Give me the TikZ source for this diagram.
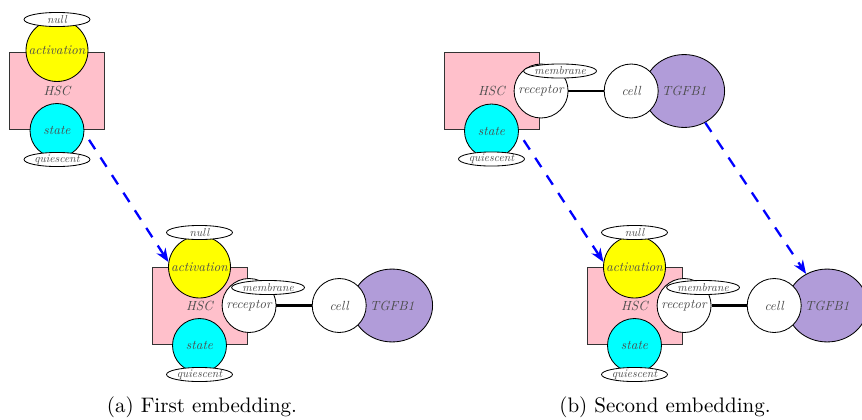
\documentclass[tikz,border=0pt]{standalone}
\usepackage{fontspec}
\newfontfamily\labelfont{lmroman10-italic.otf}
\usetikzlibrary{arrows, arrows.meta}
\usetikzlibrary{shapes.geometric, positioning}
\definecolor{H}{RGB}{255,192,203}
\definecolor{T}{RGB}{177,156,217}
\definecolor{C}{RGB}{0,255,255}
\definecolor{Y}{RGB}{255,255,0}
\tikzstyle{cellbox} = [rectangle, draw=black!80, fill=H,
minimum width=45.2pt, minimum height=36.7pt,
font=\fontsize{6.3}{7}\labelfont, text=black!70]
\tikzstyle{site} = [circle, draw, fill=white, minimum size=25.7pt, inner sep=0pt,
font=\fontsize{6.3}{7}\labelfont, text=black!70]
\tikzstyle{tag} = [ellipse, draw, fill=white, minimum width=31.4pt,
minimum height=6.7pt, inner sep=0pt,
font=\fontsize{5.5}{6}\labelfont, text=black!70]
\tikzstyle{ligand} = [ellipse, draw, fill=T, minimum width=38.5pt,
minimum height=34.7pt, inner sep=0pt,
font=\fontsize{6.3}{7}\labelfont, text=black!70]
\tikzstyle{bond} = [line width=1pt]
\tikzstyle{embed} = [-{Stealth[length=6.5pt, width=5pt]}, blue, line width=1.1pt,
dash pattern=on 5.3pt off 4.7pt]

\begin{document}
\begin{tikzpicture}[x=0.476pt, y=-0.476pt, >=stealth']
      \useasboundingbox (0,0) rectangle (862,419);

      % (a) first embedding, pattern
      \node[cellbox]                                  (hscA1) at (57,90.5) {HSC};
      \node[site, fill=Y, minimum size=29.5pt]        (actA1) at ([shift={(0,-40)}]hscA1) {activation};
      \node[tag]                                      (nulA1) at ([shift={(0,-71)}]hscA1) {null};
      \node[site, fill=C]                             (staA1) at ([shift={(0,40)}]hscA1) {state};
      \node[tag]                                      (quiA1) at ([shift={(0,69)}]hscA1) {quiescent};

      % (a) first embedding, target
      \node[cellbox]                                  (hscA2) at (199.5,305.5) {HSC};
      \node[site, fill=Y, minimum size=29.5pt]        (actA2) at ([shift={(0,-38.5)}]hscA2) {activation};
      \node[tag]                                      (nulA2) at ([shift={(0,-73)}]hscA2) {null};
      \node[site, fill=C]                             (staA2) at ([shift={(0,40)}]hscA2) {state};
      \node[tag]                                      (quiA2) at ([shift={(0,69)}]hscA2) {quiescent};
      \node[site, right of=hscA2, node distance=23.6pt] (recA2) {receptor};
      \node[tag] (memA2) at ([shift={(19,-18)}]recA2) {membrane};
      \node[ligand, right of=recA2, node distance=68.1pt] (tgfA2) {TGFB1};
      \node[site, left of=tgfA2, node distance=25.2pt]  (celA2) {cell};
      \draw[bond] (recA2) -- (celA2);

      % (b) second embedding, pattern
      \node[cellbox]                                  (hscB1) at (491.5,91) {HSC};
      \node[site, fill=C]                             (staB1) at ([shift={(0,40)}]hscB1) {state};
      \node[tag]                                      (quiB1) at ([shift={(0,68)}]hscB1) {quiescent};
      \node[site, right of=hscB1, node distance=23.6pt] (recB1) {receptor};
      \node[tag] (memB1) at ([shift={(19,-20)}]recB1) {membrane};
      \node[ligand, right of=recB1, node distance=68.1pt] (tgfB1) {TGFB1};
      \node[site, left of=tgfB1, node distance=25.2pt]  (celB1) {cell};
      \draw[bond] (recB1) -- (celB1);

      % (b) second embedding, target
      \node[cellbox]                                  (hscB2) at (634.5,305.5) {HSC};
      \node[site, fill=Y, minimum size=29.5pt]        (actB2) at ([shift={(0,-38.5)}]hscB2) {activation};
      \node[tag]                                      (nulB2) at ([shift={(0,-73)}]hscB2) {null};
      \node[site, fill=C]                             (staB2) at ([shift={(0,40)}]hscB2) {state};
      \node[tag]                                      (quiB2) at ([shift={(0,69)}]hscB2) {quiescent};
      \node[site, right of=hscB2, node distance=23.6pt] (recB2) {receptor};
      \node[tag] (memB2) at ([shift={(19,-18)}]recB2) {membrane};
      \node[ligand, right of=recB2, node distance=68.1pt] (tgfB2) {TGFB1};
      \node[site, left of=tgfB2, node distance=25.2pt]  (celB2) {cell};
      \draw[bond] (recB2) -- (celB2);

      % embeddings
      \draw[embed, shorten <=28pt] (hscA1.center) -- (actA2.171);
      \draw[embed, shorten <=28pt] (hscB1.center) -- (actB2.171);
      \draw[embed] (tgfB1) -- (tgfB2);

      \node (capA) at (202,407) {(a) First embedding.};
      \node (capB) at (665,407) {(b) Second embedding.};
    \end{tikzpicture}
\end{document}
